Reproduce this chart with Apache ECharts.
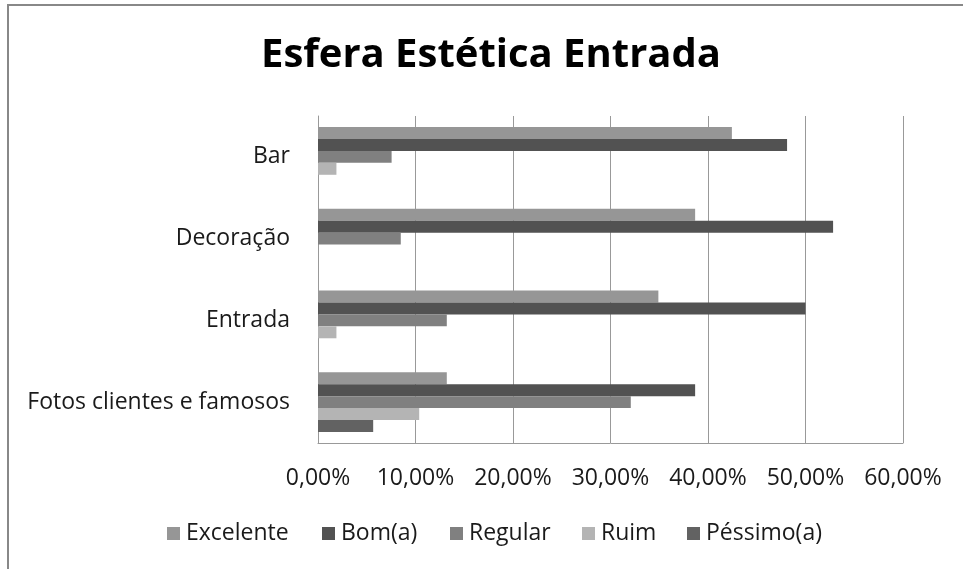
<!DOCTYPE html>
<html>
<head>
<meta charset="utf-8">
<script src="https://cdn.jsdelivr.net/npm/echarts@6/dist/echarts.min.js"></script>
<style>
  html, body { margin: 0; padding: 0; background: #fff; }
  #chart { width: 963px; height: 569px; }
</style>
</head>
<body>
<div id="chart"></div>
<script>
// Survey categories (top to bottom) and answer share per rating, in percent
const categories = ['Bar', 'Decoração', 'Entrada', 'Fotos clientes e famosos'];
const ratingNames = ['Excelente', 'Bom(a)', 'Regular', 'Ruim', 'Péssimo(a)'];
const excelente = [42.45, 38.68, 34.91, 13.21];
const bom = [48.11, 52.83, 50.00, 38.68];
const regular = [7.55, 8.49, 13.21, 32.08];
const ruim = [1.89, 0, 1.89, 10.38];
const pessimo = [0, 0, 0, 5.66];
const xTicks = { min: 0, max: 60, step: 10 };

const seriesValues = [excelente, bom, regular, ruim, pessimo];
const colors = ['#969696', '#525252', '#808080', '#b4b4b4', '#626262'];
const legendLeft = [167, 322, 450, 582, 687];
const FONT = 'Open Sans';
const LABEL_SIZE = 23;

const chart = echarts.init(document.getElementById('chart'));
chart.setOption({
  animation: false,
  backgroundColor: '#ffffff',
  color: colors,
  title: {
    text: 'Esfera Estética Entrada',
    left: 261,
    top: 36,
    padding: 0,
    textStyle: { fontFamily: FONT, fontWeight: 'bold', fontSize: 40, color: '#000' }
  },
  graphic: [{
    type: 'rect',
    shape: { x: 8, y: 5, width: 1000, height: 600 },
    style: { fill: 'none', stroke: '#888888', lineWidth: 2 },
    silent: true
  }],
  // one legend entry per component so each sits at its own spot
  legend: ratingNames.map((name, i) => ({
    top: 522,
    left: legendLeft[i],
    padding: 0,
    icon: 'rect',
    itemWidth: 13,
    itemHeight: 13,
    data: [name],
    textStyle: { fontFamily: FONT, fontSize: LABEL_SIZE, color: '#1a1a1a', padding: [0, 0, 0, 1] }
  })),
  grid: { left: 318, right: 60, top: 116, bottom: 126 },
  xAxis: {
    type: 'value',
    min: xTicks.min,
    max: xTicks.max,
    interval: xTicks.step,
    axisLine: { show: true, lineStyle: { color: '#999', width: 1 } },
    axisTick: { show: false },
    splitLine: { show: true, lineStyle: { color: '#999', width: 1 } },
    axisLabel: {
      margin: 24,
      fontFamily: FONT,
      fontSize: LABEL_SIZE,
      color: '#1a1a1a',
      formatter: v => v.toFixed(2).replace('.', ',') + '%'
    }
  },
  yAxis: {
    type: 'category',
    inverse: true,
    data: categories,
    axisLine: { show: true, lineStyle: { color: '#999', width: 1 } },
    axisTick: { show: false },
    axisLabel: { margin: 28, fontFamily: FONT, fontSize: LABEL_SIZE, color: '#1a1a1a' }
  },
  series: ratingNames.map((name, i) => ({
    name,
    type: 'bar',
    data: seriesValues[i],
    barGap: '0%',
    barCategoryGap: '27%',
    itemStyle: { color: colors[i] }
  }))
});
</script>
</body>
</html>
